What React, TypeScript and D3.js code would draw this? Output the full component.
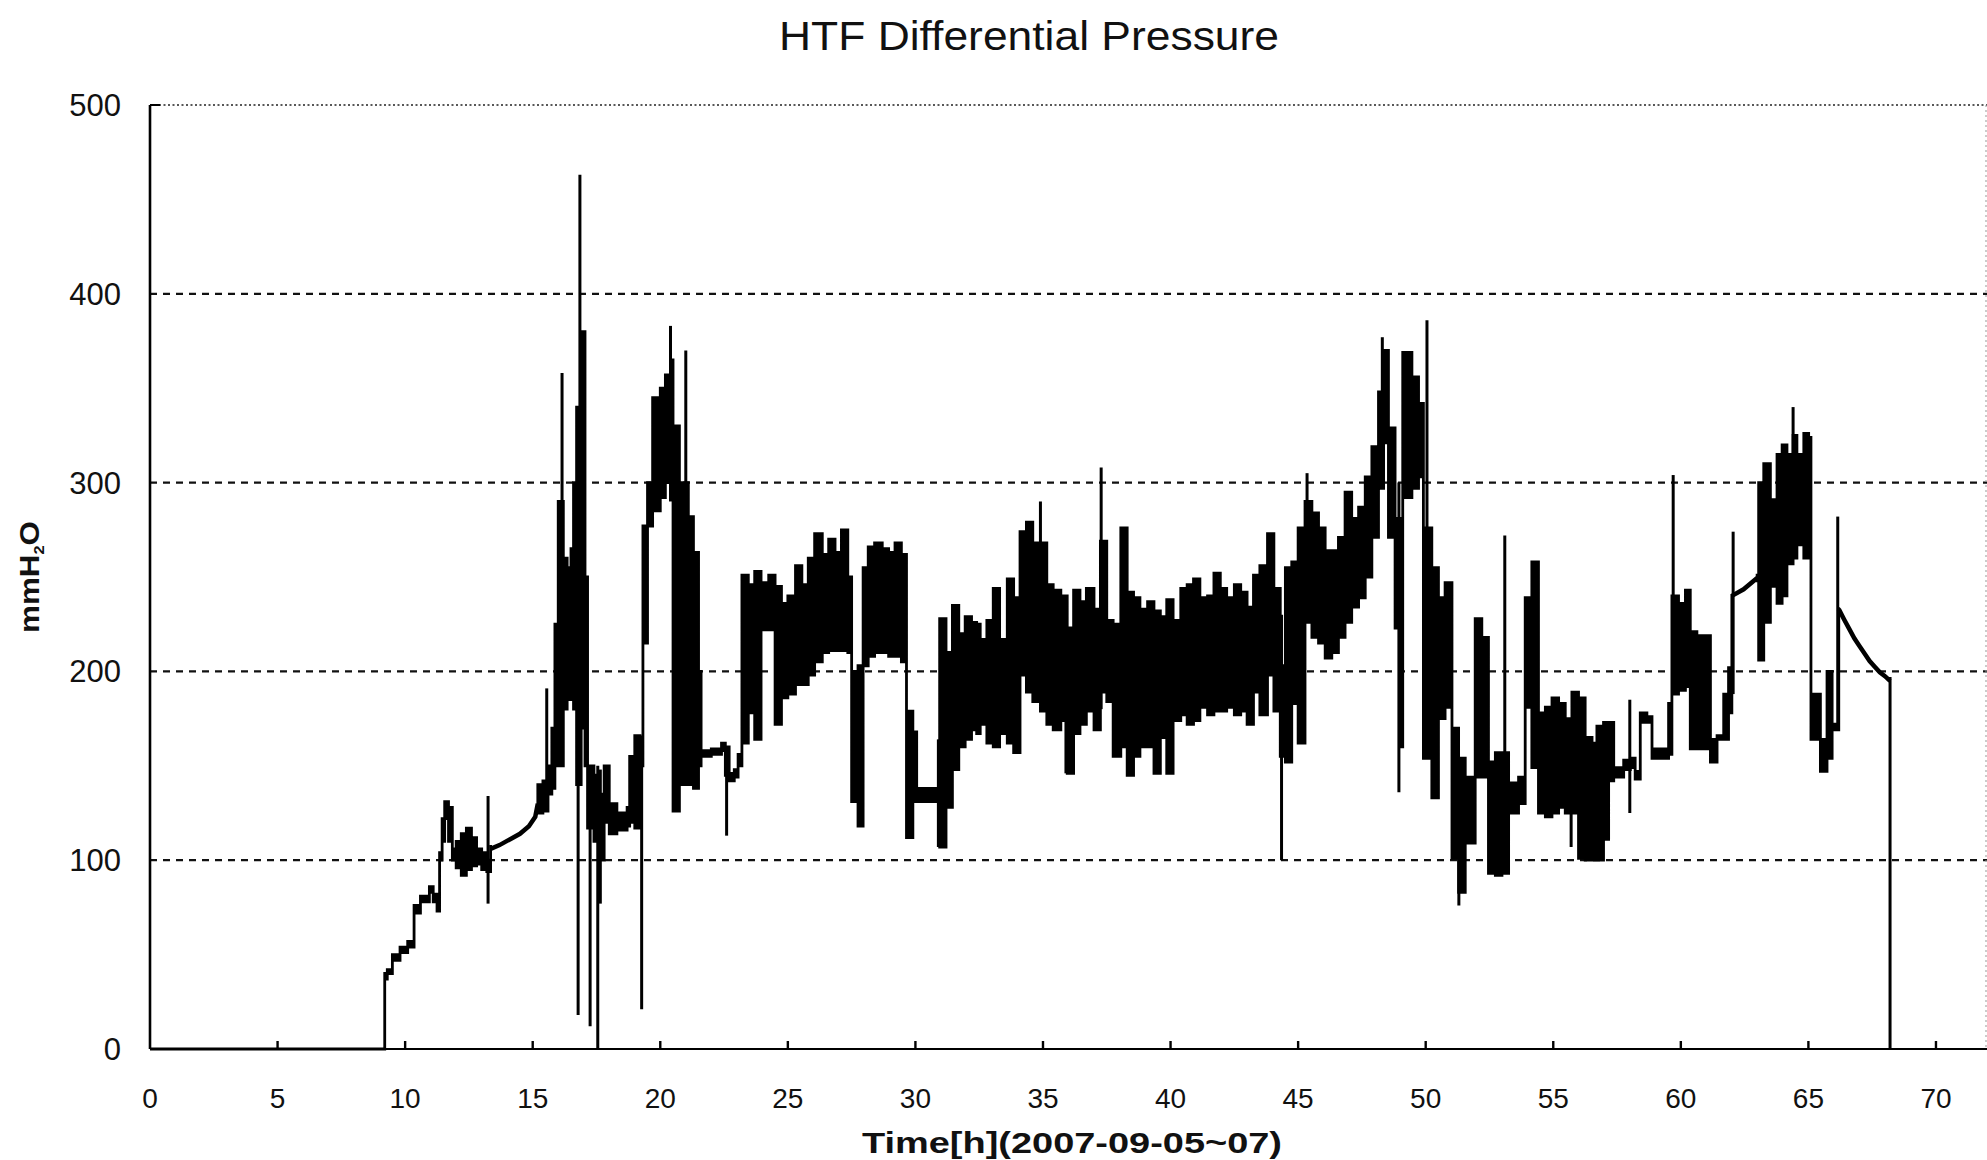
import React from "react";
import * as d3 from "d3";

// ---- data: time [h], band low / high [mmH2O]; null = gap ----
const bandTime = [
  0, 9.1, 9.2, 9.3, 9.5, 9.8, 10.1, 10.35, 10.6, 10.95, 11.1, 11.25, 11.35, 11.45, 11.55, 11.7, 11.85,
  12.0, 12.2, 12.4, 12.6, 12.8, 13.0, 13.2, 13.35, 13.36,
  15.2, 15.4, 15.6,
  15.75, 15.87, 16.0, 16.2, 16.35, 16.5, 16.6, 16.72, 16.9, 17.05, 17.15, 17.4, 17.6, 17.8, 18.0,
  18.3, 18.7, 18.8, 19.0, 19.2, 19.32, 19.5, 19.7, 20.0, 20.2, 20.4, 20.5, 20.75, 21.1, 21.3, 21.5,
  21.6, 22.0, 22.4, 22.55, 22.7, 22.9, 23.05, 23.2, 23.45, 23.7, 23.95, 24.25, 24.5, 24.75, 25.0,
  25.3, 25.55, 25.8, 26.05, 26.35, 26.6, 26.85, 27.1, 27.35, 27.5, 27.75, 27.95, 28.15, 28.4, 28.7,
  28.95, 29.2, 29.45, 29.65, 29.9, 30.05, 30.95, 31.2, 31.45, 31.7, 31.95, 32.2, 32.4, 32.54, 32.8,
  33.05, 33.3, 33.6, 33.85, 34.1, 34.35, 34.6, 34.9, 35.15, 35.4, 35.7, 35.95, 36.2, 36.45, 36.7,
  37.0, 37.25, 37.5, 37.75, 38.05, 38.3, 38.55, 38.8, 39.1, 39.35, 39.6, 39.85, 40.1, 40.4, 40.65,
  40.9, 41.15, 41.45, 41.7, 41.95, 42.2, 42.5, 42.75, 43.0, 43.25, 43.5, 43.8, 44.05, 44.3, 44.5,
  44.75, 45.0, 45.27, 45.54, 45.8, 46.06, 46.32, 46.58, 46.84, 47.1, 47.37, 47.63, 47.89, 48.15,
  48.35, 48.54, 48.8, 49.0, 49.1, 49.46, 49.72, 49.91, 50.24, 50.5, 50.76, 51.03, 51.29, 51.55,
  51.94, 52.2, 52.46, 52.73, 52.99, 53.25, 53.64, 53.9, 54.16, 54.42, 54.69, 54.95, 55.21, 55.47,
  55.73, 55.99, 56.25, 56.52, 56.71, 56.97, 57.17, 57.37, 57.76, 58.02, 58.21, 58.41, 58.67, 58.87,
  59.2, 59.52, 59.65, 59.91, 60.18, 60.37, 60.63, 60.89, 61.16, 61.42, 61.68, 61.87, 62.0, 62.01,
  62.99, 63.05, 63.25, 63.51, 63.77, 63.97, 64.16, 64.4, 64.55, 64.82, 65.01, 65.1, 65.47, 65.73,
  65.93, 66.19, 66.2,
];
const bandLow = [
  0, 0, 37, 40, 47, 51, 54, 72, 78, 83, 78, 73, 100, 110, 122, 110, 100,
  96, 92, 95, 97, 98, 95, 94, 104, null,
  125, 126, 135,
  138, 150, 150, 180, 185, 195, 180, 140, 170, 150, 117, 110, 100, 120, 114,
  116, 118, 120, 117, 150, 215, 277, 285, 292, 300, 300, 126, 140, 140, 138, 150,
  155, 156, 158, 145, 142, 144, 150, 162, 178, 164, 222, 222, 172, 186, 188,
  193, 193, 198, 205, 210, 211, 211, 211, 210, 131, 118, 203, 208, 210, 210,
  208, 208, 205, 112, 131, 131, 107, 128, 148, 160, 164, 169, 167, 172, 162,
  160, 167, 162, 157, 198, 189, 184, 179, 172, 169, 174, 146, 167, 172, 179,
  169, 189, 184, 155, 160, 145, 155, 160, 160, 146, 165, 146, 174, 177, 172,
  174, 181, 177, 179, 179, 181, 177, 179, 172, 189, 177, 198, 179, 155, 152,
  183, 162, 226, 218, 215, 207, 210, 218, 226, 234, 239, 250, 271, 297,
  321, 271, 223, 160, 292, 297, 303, 154, 133, 175, 181, 101, 83, 109,
  144, 144, 93, 92, 93, 125, 130, 181, 149, 125, 123, 125, 128, 125,
  125, 101, 100, 100, 100, 111, 142, 144, 148, 149, 143, 173, 173, 154,
  154, 156, 188, 190, 192, 159, 159, 159, 152, 164, 164, 178, 238, null,
  248, 206, 226, 245, 236, 240, 257, 260, 267, 260, 262, 164, 147, 154,
  169, 231, null,
];
const bandHigh = [
  0, 0, 40, 42, 50, 54, 57, 76, 81, 86, 82, 77, 104, 122, 131, 128, 106,
  110, 114, 117, 112, 106, 104, 100, 108, null,
  140, 142, 150,
  170, 225, 290, 260, 255, 265, 300, 340, 380, 250, 150, 145, 135, 150, 130,
  125, 128, 155, 166, 165, 277, 300, 345, 350, 357, 365, 330, 300, 282, 263, 200,
  158, 159, 162, 160, 146, 148, 156, 251, 246, 253, 247, 251, 245, 236, 240,
  256, 246, 260, 273, 262, 270, 263, 275, 250, 200, 203, 255, 266, 268, 265,
  263, 268, 262, 179, 168, 138, 228, 210, 235, 220, 229, 226, 225, 217, 227,
  244, 217, 249, 239, 274, 279, 268, 268, 246, 243, 240, 223, 243, 237, 244,
  233, 269, 227, 225, 276, 242, 239, 233, 237, 232, 229, 238, 227, 244, 246,
  249, 239, 240, 252, 244, 239, 246, 242, 234, 251, 256, 273, 244, 203, 255,
  258, 276, 290, 284, 276, 264, 264, 271, 295, 281, 287, 303, 319, 348,
  370, 329, 281, 230, 369, 356, 342, 276, 255, 239, 247, 170, 154, 144,
  228, 218, 152, 157, 157, 141, 144, 239, 258, 178, 181, 186, 183, 175,
  189, 186, 165, 162, 171, 173, 173, 149, 153, 154, 147, 178, 176, 159,
  159, 183, 240, 236, 243, 221, 219, 219, 164, 166, 188, 202, 241, null,
  251, 300, 310, 291, 315, 320, 315, 325, 315, 326, 324, 188, 164, 200,
  172, 234, null,
];

// smooth single-valued stretches (drawn as lines)
const rampTime = [13.35, 13.7, 14.1, 14.5, 14.85, 15.1, 15.2];
const rampValue = [106, 108, 111, 114, 118, 123, 130];
const riseTime = [62.0, 62.46, 62.99];
const riseValue = [240, 243.5, 249.5];
const decayTime = [66.19, 66.4, 66.6, 66.8, 67.0, 67.2, 67.4, 67.6, 67.8, 68.0, 68.2];
const decayValue = [233, 227.5, 222.5, 217.5, 213.5, 209.5, 205.5, 202.5, 199.5, 197.5, 195];

// narrow excursions (time, low, high)
const spikeTime = [
  13.25, 15.55, 16.15, 16.78, 16.85, 17.25, 17.55, 17.65, 19.27, 20.4, 21.0, 22.6, 30.9,
  34.9, 35.9, 37.28, 44.35, 45.35, 48.3, 48.95, 50.05, 51.3, 53.1, 55.7, 58.0, 59.7,
  62.05, 64.4, 66.15, 68.2,
];
const spikeLow = [
  77, 138, 160, 18, 170, 12, 0, 77, 21, 290, 140, 113, 107,
  200, 146, 180, 100, 230, 300, 136, 154, 76, 125, 107, 125, 190,
  188, 280, 171, 0,
];
const spikeHigh = [
  134, 191, 358, 300, 463, 150, 150, 148, 166, 383, 370, 160, 164,
  290, 200, 308, 230, 305, 377, 300, 386, 150, 272, 130, 185, 304,
  274, 340, 282, 197,
];

const xTicks = [0, 5, 10, 15, 20, 25, 30, 35, 40, 45, 50, 55, 60, 65, 70];
const yTicks = [0, 100, 200, 300, 400, 500];
const gridValues = [100, 200, 300, 400];

const W = 1987;
const H = 1160;

type BandPt = { t: number; lo: number | null; hi: number | null };

export default function App() {
  const x = d3.scaleLinear().domain([0, 72]).range([150, 1987]);
  const y = d3.scaleLinear().domain([0, 500]).range([1049, 105]);

  const band: BandPt[] = bandTime.map((t, i) => ({ t, lo: bandLow[i], hi: bandHigh[i] }));
  const area = d3
    .area<BandPt>()
    .defined((d) => d.lo !== null && d.hi !== null)
    .x((d) => x(d.t))
    .y0((d) => y(d.lo as number))
    .y1((d) => y(d.hi as number))
    .curve(d3.curveStepAfter);

  const line = d3
    .line<[number, number]>()
    .x((d) => x(d[0]))
    .y((d) => y(d[1]))
    .curve(d3.curveLinear);
  const smooth = [
    rampTime.map((t, i) => [t, rampValue[i]] as [number, number]),
    riseTime.map((t, i) => [t, riseValue[i]] as [number, number]),
    decayTime.map((t, i) => [t, decayValue[i]] as [number, number]),
  ];

  const font = "'Liberation Sans', Arial, Helvetica, sans-serif";

  return (
    <svg
      width={W}
      height={H}
      viewBox={`0 0 ${W} ${H}`}
      style={{ position: "absolute", left: 0, top: 0, background: "#fff" }}
    >
      <rect x={0} y={0} width={W} height={H} fill="#fff" />
      {/* title */}
      <text
        x={1029}
        y={50}
        textAnchor="middle"
        fontFamily={font}
        fontSize={40}
        textLength={500}
        lengthAdjust="spacingAndGlyphs"
        fill="#111"
      >
        HTF Differential Pressure
      </text>

      {/* gridlines */}
      {gridValues.map((v) => (
        <line
          key={v}
          x1={x(0)}
          x2={W}
          y1={y(v)}
          y2={y(v)}
          stroke="#111"
          strokeWidth={2.2}
          strokeDasharray="7 6"
        />
      ))}
      <line
        x1={x(0)}
        x2={W}
        y1={y(500)}
        y2={y(500)}
        stroke="#222"
        strokeWidth={1.6}
        strokeDasharray="2 2.5"
      />
      {/* faint right border */}
      <line
        x1={W - 1}
        x2={W - 1}
        y1={y(500)}
        y2={y(0)}
        stroke="#999"
        strokeWidth={1}
        strokeDasharray="2 3"
      />

      {/* data band */}
      <path
        d={area(band) || ""}
        fill="#000"
        stroke="#000"
        strokeWidth={2.8}
        strokeLinejoin="miter"
      />
      {smooth.map((seg, i) => (
        <path key={i} d={line(seg) || ""} fill="none" stroke="#000" strokeWidth={4.5} strokeLinecap="butt" />
      ))}
      {spikeTime.map((t, i) => (
        <line
          key={i}
          x1={x(t)}
          x2={x(t)}
          y1={y(spikeLow[i])}
          y2={y(spikeHigh[i])}
          stroke="#000"
          strokeWidth={3}
        />
      ))}

      {/* axes */}
      <line x1={x(0)} x2={x(0)} y1={y(500)} y2={y(0)} stroke="#000" strokeWidth={2.6} />
      <line x1={x(0)} x2={x(0) + 10} y1={y(500)} y2={y(500)} stroke="#000" strokeWidth={2} />
      <line x1={x(0)} x2={W} y1={y(0)} y2={y(0)} stroke="#000" strokeWidth={2.2} />
      {xTicks.map((t) =>
        t === 0 ? null : (
          <line key={t} x1={x(t)} x2={x(t)} y1={y(0)} y2={y(0) - 8} stroke="#000" strokeWidth={2.4} />
        )
      )}

      {/* y tick labels */}
      {yTicks.map((v) => (
        <text
          key={v}
          x={121}
          y={y(v) + 11}
          textAnchor="end"
          fontFamily={font}
          fontSize={31}
          fill="#111"
        >
          {v}
        </text>
      ))}

      {/* x tick labels */}
      {xTicks.map((t) => (
        <text
          key={t}
          x={x(t)}
          y={1108}
          textAnchor="middle"
          fontFamily={font}
          fontSize={28}
          fill="#111"
        >
          {t}
        </text>
      ))}

      {/* axis titles */}
      <text
        x={1072}
        y={1153}
        textAnchor="middle"
        fontFamily={font}
        fontSize={30}
        fontWeight="bold"
        textLength={420}
        lengthAdjust="spacingAndGlyphs"
        fill="#111"
      >
        Time[h](2007-09-05~07)
      </text>
      <text
        transform="translate(39,577) rotate(-90)"
        textAnchor="middle"
        fontFamily={font}
        fontSize={27}
        fontWeight="bold"
        textLength={112}
        lengthAdjust="spacingAndGlyphs"
        fill="#111"
      >
        mmH<tspan fontSize={14} dy={5}>2</tspan>
        <tspan dy={-5}>O</tspan>
      </text>
    </svg>
  );
}
